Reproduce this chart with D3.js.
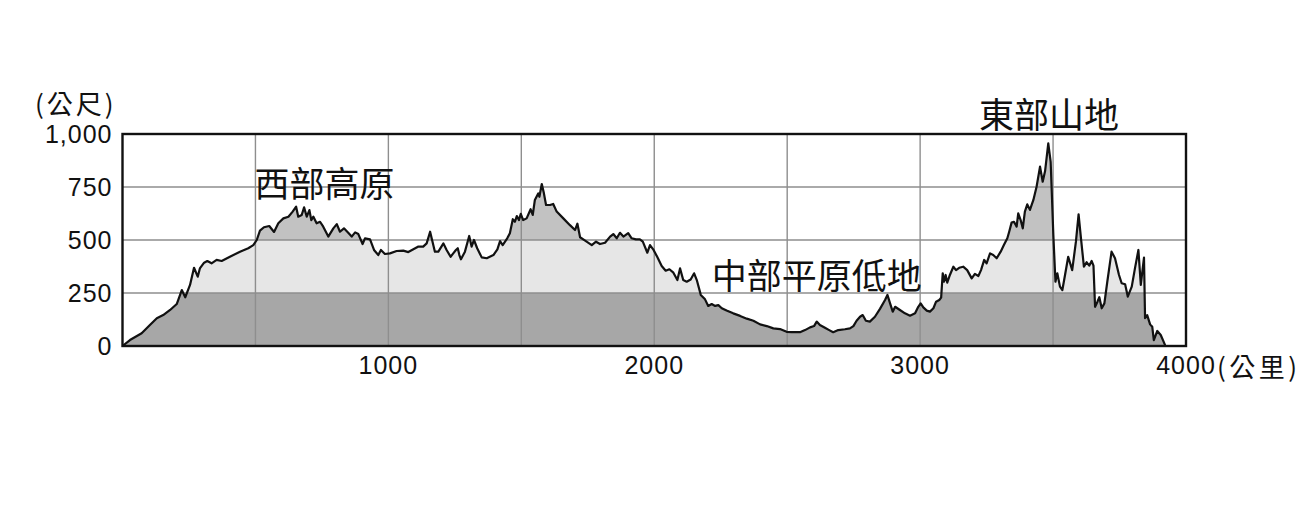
<!DOCTYPE html>
<html><head><meta charset="utf-8">
<script src="https://cdn.jsdelivr.net/npm/d3@7"></script>
<style>body{margin:0;background:#fff}svg{display:block}</style>
</head><body><div id="chart"></div>
<script>
// distance along profile (km)
const distKm = [0,28,72,103,129,153,179,204,223,236,254,269,283,291,307,319,335,354,373,404,442,473,492,505,517,532,552,570,586,605,624,640,653,661,674,683,693,703,710,718,730,743,755,774,793,806,818,833,849,862,875,887,903,912,931,946,962,972,987,1006,1031,1056,1075,1094,1113,1131,1144,1157,1175,1188,1207,1219,1234,1244,1254,1261,1267,1273,1288,1304,1313,1322,1334,1351,1370,1395,1410,1420,1430,1447,1457,1468,1476,1483,1491,1498,1507,1520,1535,1543,1551,1564,1568,1577,1585,1593,1608,1620,1633,1658,1683,1702,1711,1721,1740,1765,1781,1796,1815,1834,1846,1859,1871,1884,1902,1915,1931,1946,1957,1974,1984,1996,2011,2028,2043,2057,2072,2087,2097,2109,2122,2137,2150,2160,2175,2191,2203,2216,2229,2241,2254,2272,2297,2323,2348,2373,2398,2423,2448,2473,2498,2517,2548,2567,2586,2601,2611,2623,2642,2658,2673,2692,2717,2736,2749,2761,2774,2784,2796,2811,2830,2849,2868,2877,2887,2897,2906,2924,2943,2962,2981,2993,3002,3012,3025,3037,3050,3060,3072,3079,3085,3090,3096,3102,3112,3125,3135,3147,3162,3177,3194,3206,3219,3229,3241,3250,3263,3275,3288,3303,3315,3328,3335,3344,3353,3363,3369,3378,3386,3394,3403,3413,3426,3438,3451,3461,3470,3482,3491,3501,3509,3516,3526,3535,3545,3557,3572,3586,3596,3605,3616,3626,3636,3645,3652,3658,3667,3674,3683,3693,3704,3720,3733,3748,3758,3771,3781,3796,3808,3821,3830,3842,3846,3854,3865,3873,3879,3892,3905,3921,3922];
// elevation (m)
const elevM = [0,28,60,99,131,146,170,198,264,230,288,369,327,366,393,401,390,406,401,421,445,461,476,500,544,560,566,538,579,602,610,634,657,610,618,654,610,641,594,610,579,586,563,516,555,575,539,555,534,516,536,528,481,508,503,453,429,453,434,437,448,450,443,456,469,469,484,539,445,445,484,453,421,437,453,461,429,409,445,519,469,500,461,418,414,429,456,495,476,508,532,598,586,613,594,623,594,602,645,618,689,720,704,764,720,665,665,670,634,602,570,547,577,513,497,476,492,481,487,516,528,508,534,516,532,508,503,503,492,440,476,456,421,377,355,362,346,311,366,311,303,314,343,311,241,220,189,198,189,193,178,167,154,142,129,119,102,94,83,80,67,65,65,75,88,94,115,99,86,75,65,75,79,83,94,119,138,146,119,115,138,175,217,241,201,162,185,170,154,143,154,185,201,182,167,162,178,209,217,228,343,303,335,299,335,374,358,369,374,358,319,340,330,358,406,390,437,429,414,445,476,508,539,582,586,563,626,594,555,634,668,642,689,751,846,775,825,956,869,524,303,343,280,264,335,421,358,492,621,508,374,395,379,401,379,185,209,230,178,201,303,445,414,335,296,291,233,280,366,453,288,417,131,146,102,91,28,71,52,5,0];

const yTicks = [0,250,500,750,1000];
const yTickLabels = ["0","250","500","750","1,000"];
const xTicks = [1000,2000,3000,4000];
const xTickLabels = ["1000","2000","3000","4000"];
const xGrid = [500,1000,1500,2000,2500,3000,3500];
const yGrid = [250,500,750];
const bandBreaks = [0,250,500,1000];
const bandColors = ["#a7a7a7","#e6e6e6","#c2c2c2"];
const yUnit = "(公尺)";
const xUnit = "(公里)";
const regionNames = ["西部高原","中部平原低地","東部山地"];
const regionKm = [760,2611,3485];
const regionM = [774,344,1101];

const W = 1303, H = 531;
const x = d3.scaleLinear().domain([0,4000]).range([122.5,1186]);
const y = d3.scaleLinear().domain([0,1000]).range([346,134]);

const svg = d3.select("#chart").append("svg").attr("width",W).attr("height",H);
const data = distKm.map((d,i)=>({d, e: elevM[i]}));

const area = d3.area().x(p=>x(p.d)).y0(y(0)).y1(p=>y(p.e));
const line = d3.line().x(p=>x(p.d)).y(p=>y(p.e));

svg.append("clipPath").attr("id","prof").append("path").attr("d", area(data));

const bands = d3.range(bandColors.length).map(i=>({lo:bandBreaks[i],hi:bandBreaks[i+1],c:bandColors[i]}));
svg.append("g").attr("clip-path","url(#prof)")
  .selectAll("rect").data(bands).join("rect")
  .attr("x", x(0)).attr("width", x(4000)-x(0))
  .attr("y", b=>y(b.hi)).attr("height", b=>y(b.lo)-y(b.hi))
  .attr("fill", b=>b.c);

const grid = svg.append("g").attr("stroke","#8e8e8e").attr("stroke-width",1.4);
grid.selectAll("line.h").data(yGrid).join("line").attr("class","h")
  .attr("x1",x(0)).attr("x2",x(4000)).attr("y1",d=>y(d)).attr("y2",d=>y(d));
grid.selectAll("line.v").data(xGrid).join("line").attr("class","v")
  .attr("y1",y(0)).attr("y2",y(1000)).attr("x1",d=>x(d)).attr("x2",d=>x(d));

svg.append("path").attr("d", line(data)).attr("fill","none")
  .attr("stroke","#111").attr("stroke-width",2.2).attr("stroke-linejoin","round");

svg.append("rect").attr("x",x(0)).attr("y",y(1000))
  .attr("width",x(4000)-x(0)).attr("height",y(0)-y(1000))
  .attr("fill","none").attr("stroke","#111").attr("stroke-width",2.4);

const numFont = "'Liberation Sans', Arial, sans-serif";
const cjkFont = "'Noto Sans CJK TC','Noto Sans CJK SC',sans-serif";

svg.append("g").selectAll("text").data(yTicks).join("text")
  .attr("x", x(0)-10).attr("y", d=>y(d))
  .attr("text-anchor","end").attr("dominant-baseline","central")
  .attr("font-family",numFont).attr("font-size",25).attr("letter-spacing",1)
  .attr("fill","#111")
  .text((d,i)=>yTickLabels[i]);

svg.append("g").selectAll("text").data(xTicks).join("text")
  .attr("x", d=>x(d)).attr("y", y(0)+19)
  .attr("text-anchor","middle").attr("dominant-baseline","central")
  .attr("font-family",numFont).attr("font-size",25).attr("letter-spacing",1)
  .attr("fill","#111")
  .text((d,i)=>xTickLabels[i]);

svg.append("text").attr("x", x(0)-6).attr("y", y(1000)-32)
  .attr("text-anchor","end").attr("dominant-baseline","central")
  .attr("font-family",cjkFont).attr("font-size",26).attr("letter-spacing",3)
  .attr("fill","#111").text(yUnit);

svg.append("text").attr("x", x(4000)+31).attr("y", y(0)+19)
  .attr("text-anchor","start").attr("dominant-baseline","central")
  .attr("font-family",cjkFont).attr("font-size",26).attr("letter-spacing",3.5)
  .attr("fill","#111").text(xUnit);

svg.append("g").selectAll("text").data(regionNames).join("text")
  .attr("x",(d,i)=>x(regionKm[i])).attr("y",(d,i)=>y(regionM[i]))
  .attr("text-anchor","middle").attr("dominant-baseline","central")
  .attr("font-family",cjkFont).attr("font-size",35)
  .attr("fill","#111").text(d=>d);
</script></body></html>
